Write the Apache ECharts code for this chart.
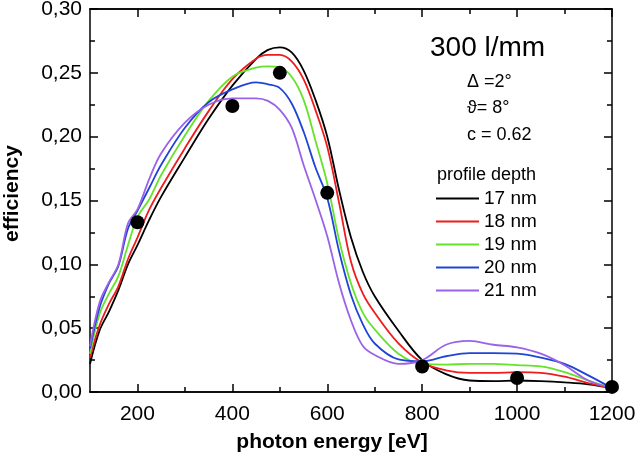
<!DOCTYPE html>
<html>
<head>
<meta charset="utf-8">
<script src="https://cdn.jsdelivr.net/npm/echarts@6/dist/echarts.min.js"></script>
<style>
  html, body { margin: 0; padding: 0; background: #fff; }
  #chart { width: 640px; height: 459px; }
</style>
</head>
<body>
<div id="chart"></div>
<script>
// photon energy grid (eV)
const energy = [100, 120, 140, 160, 180, 200, 225, 250, 300, 350, 400, 450, 475, 500, 525, 550, 575, 600,
  625, 650, 675, 700, 750, 800, 850, 900, 950, 1000, 1050, 1100, 1150, 1200];

// efficiency per profile depth
const depth17 = [0.022, 0.048, 0.063, 0.080, 0.100, 0.115, 0.135, 0.153, 0.184, 0.214, 0.240, 0.261, 0.268, 0.270,
  0.266, 0.252, 0.229, 0.200, 0.158, 0.121, 0.094, 0.075, 0.048, 0.025, 0.014, 0.009, 0.0085, 0.009, 0.0085, 0.0075, 0.006, 0.003];
const depth18 = [0.027, 0.052, 0.069, 0.083, 0.104, 0.121, 0.143, 0.160, 0.191, 0.220, 0.245, 0.261, 0.264, 0.264,
  0.259, 0.245, 0.221, 0.192, 0.148, 0.102, 0.077, 0.062, 0.038, 0.023, 0.017, 0.015, 0.015, 0.0155, 0.015, 0.012, 0.007, 0.003];
const depth19 = [0.030, 0.061, 0.077, 0.091, 0.115, 0.137, 0.151, 0.170, 0.201, 0.228, 0.247, 0.254, 0.255, 0.254,
  0.247, 0.229, 0.197, 0.1635, 0.119, 0.085, 0.062, 0.049, 0.030, 0.022, 0.0215, 0.022, 0.022, 0.021, 0.020, 0.0156, 0.009, 0.003];
const depth20 = [0.034, 0.066, 0.085, 0.099, 0.128, 0.142, 0.160, 0.178, 0.207, 0.227, 0.237, 0.2425, 0.241, 0.238,
  0.226, 0.204, 0.176, 0.152, 0.110, 0.076, 0.053, 0.038, 0.0255, 0.024, 0.028, 0.0305, 0.0305, 0.030, 0.027, 0.022, 0.013, 0.003];
const depth21 = [0.036, 0.070, 0.086, 0.100, 0.132, 0.143, 0.167, 0.187, 0.211, 0.225, 0.230, 0.230, 0.228, 0.221,
  0.207, 0.178, 0.151, 0.122, 0.085, 0.056, 0.036, 0.029, 0.022, 0.025, 0.037, 0.040, 0.037, 0.035, 0.030, 0.021, 0.009, 0.003];

// measured points
const measE = [200, 400, 500, 600, 800, 1000, 1200];
const measEff = [0.133, 0.224, 0.250, 0.156, 0.020, 0.011, 0.004];

const depthNames = ['17 nm', '18 nm', '19 nm', '20 nm', '21 nm'];
const depthColors = ['#000000', '#ee1c1c', '#66e22a', '#1f44d6', '#9a62ea'];
const majorX = [200, 400, 600, 800, 1000, 1200];
const minorX = [300, 500, 700, 900, 1100];

const FONT = '"Liberation Sans", Arial, sans-serif';
const curves = [depth17, depth18, depth19, depth20, depth21];

function pairs(xs, ys) { return xs.map((x, i) => [x, ys[i]]); }

function xAxisDef(pos, ticks, len, labels) {
  return {
    type: 'value', position: pos, min: 100, max: 1200, interval: 100,
    splitLine: { show: false },
    axisLine: { show: true, onZero: false, lineStyle: { color: '#000', width: 1.5 } },
    axisTick: { show: true, inside: true, length: len, customValues: ticks, lineStyle: { color: '#000', width: 1.5 } },
    axisLabel: labels ? {
      show: true, customValues: majorX, color: '#000', fontSize: 21, fontFamily: FONT, margin: 12,
      formatter: v => String(v)
    } : { show: false }
  };
}

function yAxisDef(pos, labels) {
  return {
    type: 'value', position: pos, min: 0, max: 0.3, interval: 0.05,
    splitLine: { show: false },
    axisLine: { show: true, onZero: false, lineStyle: { color: '#000', width: 1.5 } },
    axisTick: { show: true, inside: true, length: 8, lineStyle: { color: '#000', width: 1.5 } },
    minorTick: { show: true, splitNumber: 2, length: 5, lineStyle: { color: '#000', width: 1.5 } },
    minorSplitLine: { show: false },
    axisLabel: labels ? {
      show: true, color: '#000', fontSize: 21, fontFamily: FONT, margin: 8,
      formatter: v => v.toFixed(2).replace('.', ',')
    } : { show: false }
  };
}

const xAxes = [xAxisDef('bottom', majorX, 8, true), xAxisDef('bottom', minorX, 5, false),
  xAxisDef('top', majorX, 8, false), xAxisDef('top', minorX, 5, false)];
xAxes[0].name = 'photon energy [eV]';
xAxes[0].nameLocation = 'middle';
xAxes[0].nameGap = 40;
xAxes[0].nameTextStyle = { color: '#000', fontSize: 21, fontWeight: 'bold', fontFamily: FONT, padding: [0, 38, 0, 0] };

const yAxes = [yAxisDef('left', true), yAxisDef('right', false)];
yAxes[0].name = 'efficiency';
yAxes[0].nameLocation = 'middle';
yAxes[0].nameGap = 67;
yAxes[0].nameTextStyle = { color: '#000', fontSize: 21, fontWeight: 'bold', fontFamily: FONT, padding: [0, 0, 0, 14] };

const series = curves.map((c, i) => ({
  name: depthNames[i], type: 'line', xAxisIndex: 0, yAxisIndex: 0,
  data: pairs(energy, c), smooth: 0.35, symbol: 'none',
  lineStyle: { color: depthColors[i], width: 1.8 }, itemStyle: { color: depthColors[i] }, z: 2
}));
series.push({
  name: 'measured', type: 'scatter', xAxisIndex: 0, yAxisIndex: 0,
  data: pairs(measE, measEff), symbolSize: 14, itemStyle: { color: '#000', opacity: 1 }, z: 5
});

const chart = echarts.init(document.getElementById('chart'), null, { renderer: 'canvas' });
chart.setOption({
  animation: false,
  backgroundColor: '#fff',
  grid: { left: 90, right: 28, top: 9, bottom: 67, outerBoundsMode: 'none' },
  xAxis: xAxes,
  yAxis: yAxes,
  legend: {
    data: depthNames.map(n => ({ name: n, icon: 'rect' })),
    orient: 'vertical', left: 436, top: 189, padding: 0,
    itemWidth: 43, itemHeight: 2, itemGap: 4,
    textStyle: { color: '#000', fontSize: 19, fontFamily: FONT }
  },
  graphic: [
    { type: 'text', x: 430, y: 48, style: { text: '300 l/mm', font: '28px ' + FONT, fill: '#000', verticalAlign: 'middle' } },
    { type: 'text', x: 467, y: 82, style: { text: '\u0394 =2\u00b0', font: '18px ' + FONT, fill: '#000', verticalAlign: 'middle' } },
    { type: 'text', x: 467, y: 108, style: { text: '\u03d1= 8\u00b0', font: '18px ' + FONT, fill: '#000', verticalAlign: 'middle' } },
    { type: 'text', x: 467, y: 135, style: { text: 'c = 0.62', font: '18px ' + FONT, fill: '#000', verticalAlign: 'middle' } },
    { type: 'text', x: 437, y: 175, style: { text: 'profile depth', font: '18px ' + FONT, fill: '#000', verticalAlign: 'middle' } }
  ],
  series: series
});
</script>
</body>
</html>
